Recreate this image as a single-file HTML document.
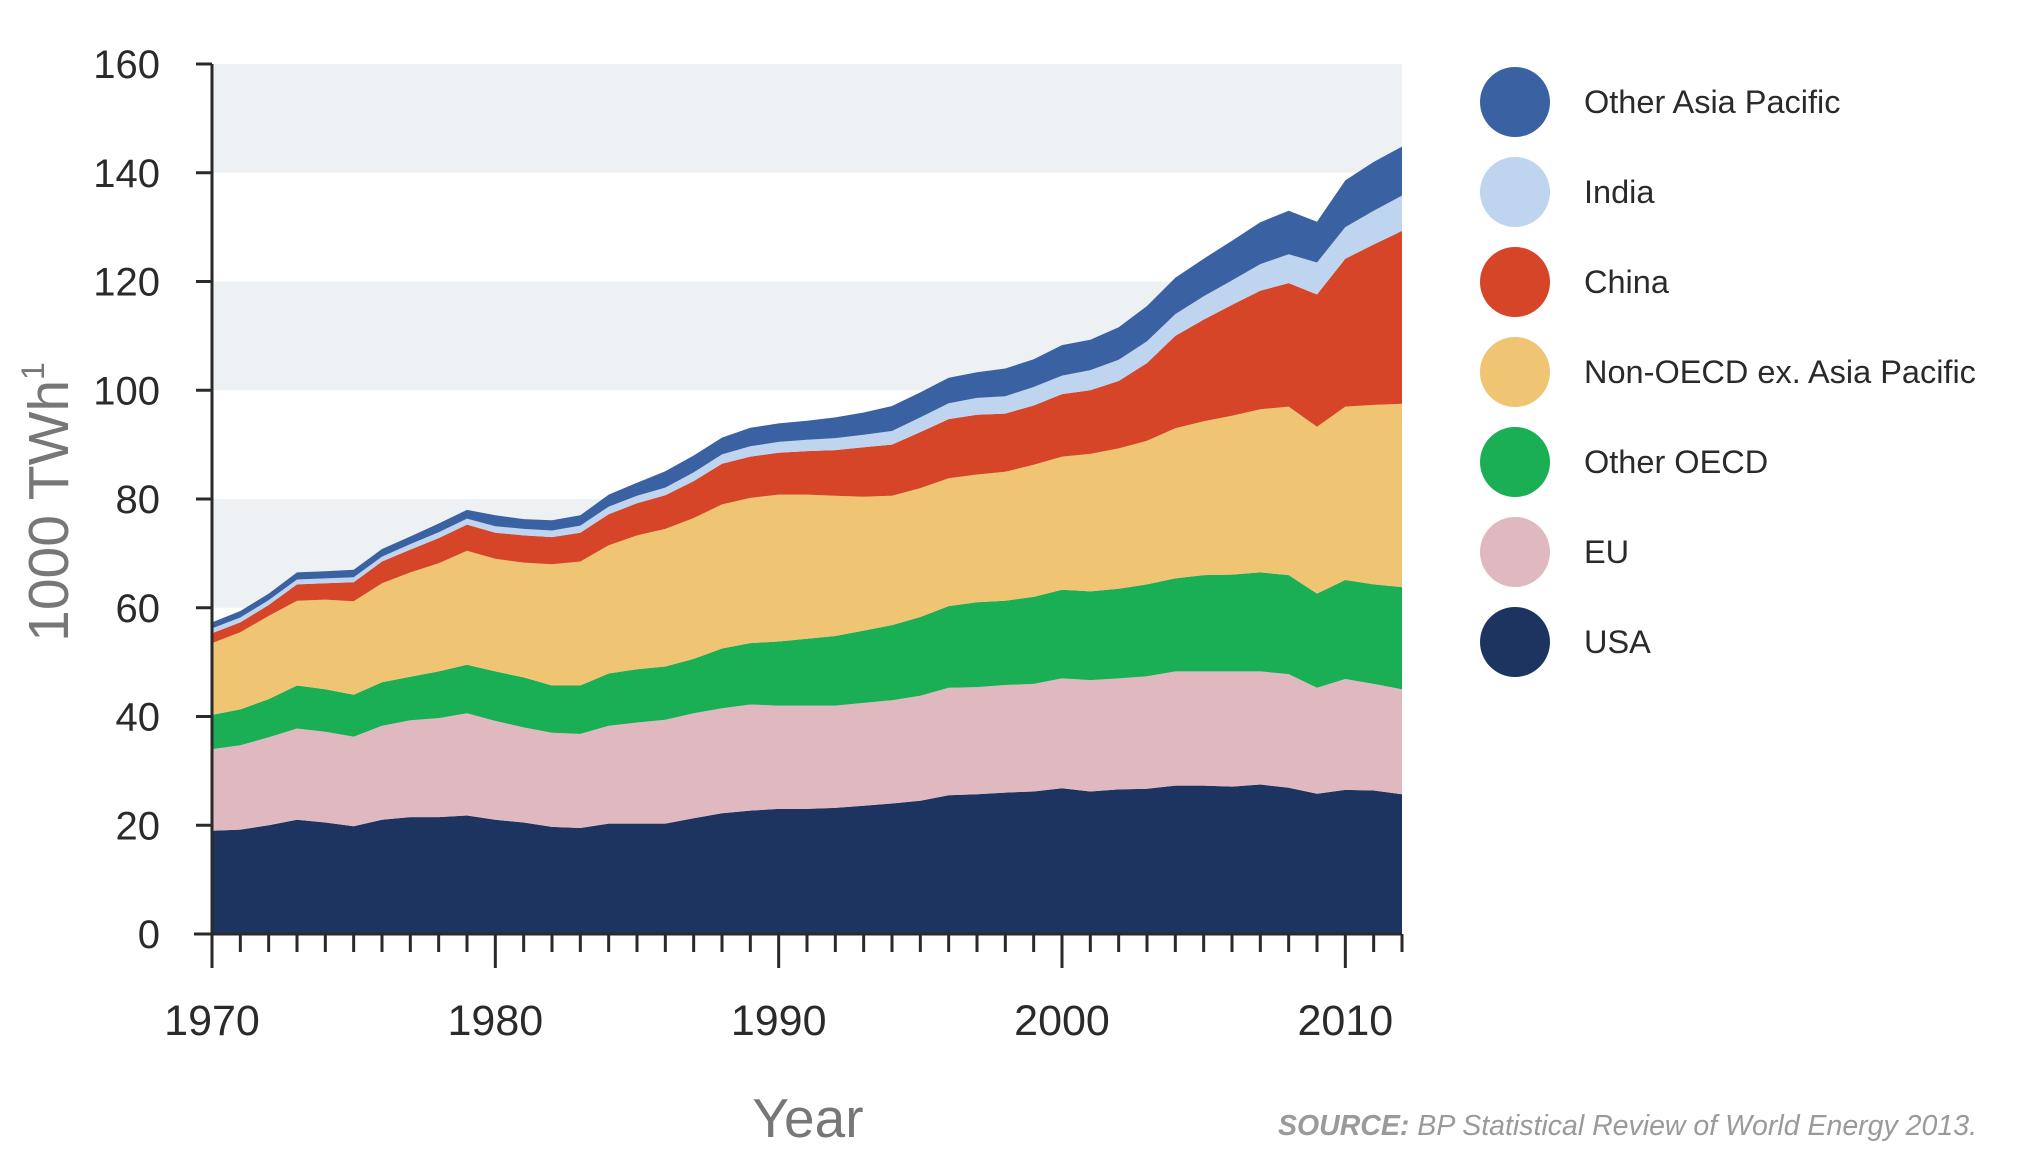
<!DOCTYPE html>
<html><head><meta charset="utf-8"><style>
body{margin:0;background:#fff;width:2018px;height:1162px;overflow:hidden;font-family:"Liberation Sans",sans-serif}
</style></head><body>
<svg id="chart" width="2018" height="1162" viewBox="0 0 2018 1162" xmlns="http://www.w3.org/2000/svg"></svg>
<script>
const years = [];for(let y=1970;y<=2012;y++)years.push(y);
const seriesNames = ["USA","EU","Other OECD","Non-OECD ex. Asia Pacific","China","India","Other Asia Pacific"];
const seriesColors = ["#1d3461","#e0b8c0","#1aae55","#efc472","#d64528","#bfd4ee","#3a62a3"];
const usa = [19,19.2,20,21,20.5,19.8,21,21.5,21.5,21.8,21,20.5,19.7,19.5,20.3,20.3,20.3,21.3,22.2,22.7,23,23,23.2,23.6,24,24.5,25.5,25.7,26,26.2,26.8,26.2,26.6,26.7,27.3,27.3,27.1,27.5,26.9,25.8,26.5,26.4,25.7];
const eu = [15,15.5,16.2,16.8,16.7,16.5,17.3,17.8,18.2,18.8,18.2,17.5,17.3,17.3,18,18.6,19.1,19.3,19.3,19.5,19,19,18.8,18.9,19,19.3,19.8,19.7,19.8,19.8,20.2,20.5,20.4,20.7,21,21,21.2,20.8,20.9,19.5,20.4,19.6,19.3];
const otherOecd = [6.3,6.6,7,7.9,7.8,7.7,8,8,8.6,8.9,9.1,9.2,8.7,8.9,9.6,9.8,9.8,10,11,11.3,11.8,12.3,12.8,13.3,13.8,14.5,15,15.6,15.5,16,16.3,16.3,16.5,16.9,17.1,17.7,17.8,18.2,18.2,17.3,18.2,18.3,18.8];
const nonOecd = [13.2,14.2,15.3,15.6,16.5,17.2,18.2,19.2,19.9,21,20.7,21.1,22.3,22.8,23.6,24.6,25.3,25.9,26.5,26.7,27,26.5,25.8,24.6,23.8,23.7,23.5,23.5,23.7,24.3,24.5,25.3,25.8,26.4,27.6,28.3,29.2,30,31,30.7,31.9,33,33.7];
const china = [1.8,1.8,2,3,3,3.5,4,4.2,4.6,4.8,4.8,5,5,5.3,5.7,5.9,6.2,6.8,7.5,7.6,7.7,8,8.4,9.1,9.4,10.3,10.9,11,10.7,10.9,11.5,11.7,12.4,14.3,17,18.7,20.4,21.8,22.7,24.3,27.2,29.5,31.8];
const india = [.9,.9,.9,.9,.9,.9,.9,1,1.1,1.1,1.2,1.2,1.2,1.3,1.4,1.4,1.4,1.6,1.7,1.9,2,2.1,2.2,2.3,2.5,2.7,2.9,3.1,3.2,3.4,3.4,3.7,3.9,4,4,4.3,4.5,4.9,5.3,5.9,5.8,6.2,6.5];
const otherAsia = [1.1,1.2,1.2,1.3,1.3,1.4,1.4,1.4,1.6,1.6,2,1.8,1.9,1.9,2.2,2.4,3,3.1,3.1,3.4,3.4,3.5,3.8,4.1,4.6,4.6,4.7,4.7,5.1,5.1,5.6,5.6,6,6.5,6.7,6.9,7.3,7.7,8,7.5,8.6,9,9];
const yTicks = [0,20,40,60,80,100,120,140,160];
const xLabels = [1970,1980,1990,2000,2010];

const NS="http://www.w3.org/2000/svg";
const svg=document.getElementById('chart');
const X0=212,X1=1402,Y0=934,Y1=64;
const xs=y=>X0+(y-1970)*(X1-X0)/42;
const ys=v=>Y0-v*(Y0-Y1)/160;
function mk(t,a,p){const e=document.createElementNS(NS,t);for(const k in a)e.setAttribute(k,a[k]);(p||svg).appendChild(e);return e;}

for(let i=0;i<4;i++){
  const lo=20+i*40, hi=lo+20;
  const b=mk('rect',{x:X0,y:ys(hi),width:X1-X0,height:ys(lo)-ys(hi),fill:'#edf1f4'});
  
  
}
const series=[usa,eu,otherOecd,nonOecd,china,india,otherAsia];
let base=years.map(()=>0);
series.forEach((s,si)=>{
  const top=base.map((b,i)=>b+s[i]);
  let d='M'+years.map((y,i)=>xs(y).toFixed(1)+','+ys(top[i]).toFixed(1)).join('L');
  for(let i=years.length-1;i>=0;i--)d+='L'+xs(years[i]).toFixed(1)+','+ys(base[i]).toFixed(1);
  d+='Z';
  const p=mk('path',{d:d,fill:seriesColors[si]});
  
  
  base=top;
});
const ya=mk('line',{x1:X0,y1:Y1,x2:X0,y2:Y0,stroke:'#2a2a2a','stroke-width':3});


const xa=mk('line',{x1:X0-18,y1:Y0,x2:X1,y2:Y0,stroke:'#2a2a2a','stroke-width':3});


yTicks.forEach(v=>{
  const t=mk('line',{x1:X0-16,y1:ys(v),x2:X0,y2:ys(v),stroke:'#2a2a2a','stroke-width':3});
  
  
  const l=mk('text',{x:160,y:ys(v)+14,'text-anchor':'end','font-size':40,fill:'#2a2a2a'});
  l.textContent=v;
  
  
});
years.forEach(y=>{
  const major=(y%10===0);
  const t=mk('line',{x1:xs(y),y1:Y0,x2:xs(y),y2:Y0+(major?34:18),stroke:'#2a2a2a','stroke-width':3});
  
  
});
xLabels.forEach(y=>{
  const l=mk('text',{x:xs(y),y:1035,'text-anchor':'middle','font-size':43,fill:'#2a2a2a'});
  l.textContent=y;
  
  
});
const xt=mk('text',{x:808,y:1137,'text-anchor':'middle','font-size':55,fill:'#777'});
xt.textContent='Year';


const yt=mk('text',{x:0,y:0,'text-anchor':'middle','font-size':57,fill:'#777',transform:'translate(68,502) rotate(-90)'});
yt.innerHTML='1000 TWh<tspan font-size="32" dy="-24">1</tspan>';


const legendOrder=[6,5,4,3,2,1,0];
legendOrder.forEach((si,k)=>{
  const cy=102+k*90;
  const g=mk('g',{});
  
  
  mk('circle',{cx:1515,cy:cy,r:35,fill:seriesColors[si]},g);
  const t=mk('text',{x:1584,y:cy+11,'font-size':32.5,fill:'#2a2a2a'},g);
  t.textContent=seriesNames[si];
});
const src=mk('text',{x:1977,y:1135,'text-anchor':'end','font-size':28.5,'font-style':'italic',fill:'#9a9a9a'});
src.innerHTML='<tspan font-weight="bold">SOURCE:</tspan> BP Statistical Review of World Energy 2013.';


</script>
</body></html>
